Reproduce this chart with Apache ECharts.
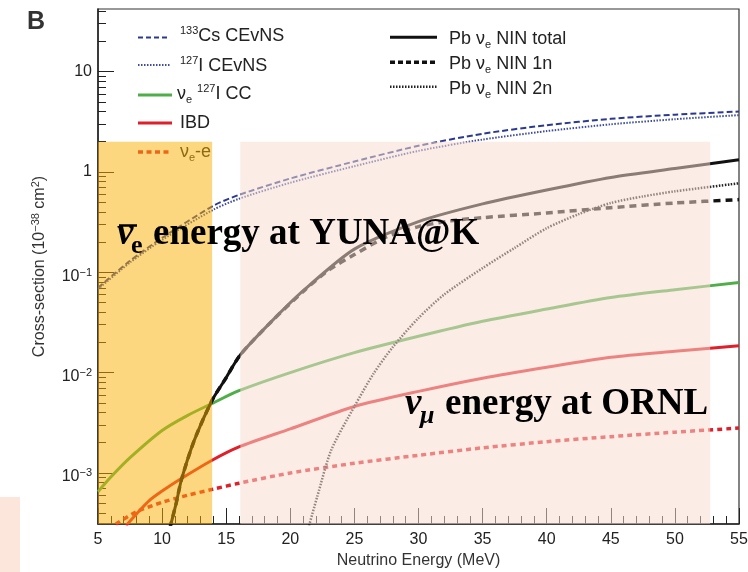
<!DOCTYPE html>
<html><head><meta charset="utf-8">
<script src="https://cdn.jsdelivr.net/npm/echarts@6/dist/echarts.min.js"></script>
<style>html,body{margin:0;padding:0;background:#fff}#c{width:748px;height:572px}</style>
</head><body><div id="c"></div>
<script>
// ---- data (energy MeV, cross-section 1e-38 cm^2) ----
const yMajorTicks = [1e-3, 1e-2, 1e-1, 1, 10];
const yMinorMultipliers = [2, 3, 4, 5, 6, 7, 8, 9];
const cevnsCs = [[5,0.07],[7.5,0.13],[10,0.22],[14,0.46],[16,0.59],[20,0.86],[25,1.27],[30,1.82],[35,2.4],[40,2.92],[45,3.38],[50,3.72],[55,4.0]];
const cevnsI  = [[5,0.068],[7.5,0.125],[10,0.21],[14,0.42],[16,0.54],[20,0.78],[25,1.14],[30,1.62],[35,2.1],[40,2.55],[45,2.98],[50,3.35],[55,3.68]];
const iodineCC = [[5,6.5e-4],[6,9.1e-4],[7.5,1.42e-3],[10,2.65e-3],[12,3.75e-3],[14,5.0e-3],[16,6.6e-3],[20,1.0e-2],[25,1.58e-2],[30,2.3e-2],[35,3.25e-2],[40,4.3e-2],[45,5.6e-2],[50,6.7e-2],[55,7.9e-2]];
const ibd = [[7.2,3.0e-4],[8,3.9e-4],[9,5.3e-4],[10,6.6e-4],[11.5,8.8e-4],[13.9,1.34e-3],[16,1.82e-3],[20,2.75e-3],[25,4.6e-3],[30,6.5e-3],[35,8.8e-3],[40,1.13e-2],[45,1.42e-2],[50,1.63e-2],[55,1.85e-2]];
const nueE = [[6.4,3.1e-4],[8,4.1e-4],[10,5.1e-4],[12,6.0e-4],[14,6.9e-4],[16,7.9e-4],[20,1.0e-3],[25,1.25e-3],[30,1.5e-3],[35,1.78e-3],[40,2.05e-3],[45,2.3e-3],[50,2.55e-3],[55,2.8e-3]];
const pbTotal = [[10.6,2.8e-4],[11.1,5.0e-4],[11.5,8.5e-4],[12.5,2.1e-3],[13.9,5.3e-3],[14.9,8.5e-3],[16.1,1.5e-2],[18.5,3.2e-2],[21.1,6.7e-2],[25,0.17],[30,0.32],[35,0.48],[40,0.66],[45,0.88],[50,1.08],[55,1.32]];
const pb1n = [[10.6,2.8e-4],[11.1,5.0e-4],[11.5,8.5e-4],[12.5,2.1e-3],[13.9,5.3e-3],[14.9,8.5e-3],[16.1,1.5e-2],[18.5,3.2e-2],[21.1,6.6e-2],[23,0.105],[25,0.15],[27.5,0.225],[30,0.285],[32.5,0.325],[35,0.35],[40,0.39],[45,0.44],[50,0.49],[55,0.53]];
const pb2n = [[21.4,2.8e-4],[22.1,5.8e-4],[23.2,1.7e-3],[25,4.6e-3],[26.5,9.8e-3],[28,1.8e-2],[30,3.5e-2],[32,6.0e-2],[35,0.11],[37.5,0.175],[40,0.275],[42.5,0.38],[45,0.49],[47.5,0.57],[50,0.64],[55,0.77]];
const energyBands = [[5, 13.9], [16.1, 52.75]];   // YUNA@K, ORNL
const bandTop = 2.0;
const yMin = 3.1e-4, yMax = 42;

const yMinorTicks = [];
[1e-4,1e-3,1e-2,1e-1,1,10].forEach(d => yMinorMultipliers.forEach(m => { const v = d*m; if (v >= yMin && v <= yMax) yMinorTicks.push(v); }));

const SANS = '"Liberation Sans", Arial, sans-serif';
const SERIF = '"Liberation Serif", "Times New Roman", serif';
const NAVY = '#2b3990', NAVY2 = '#3f4c9e', GREEN = '#4fae48', RED = '#e01f2a', BLACK = '#111';

function line(name, data, color, width, type) {
  return { type: 'line', name, data, showSymbol: false, symbol: 'none', smooth: 0.25,
    lineStyle: { color, width, type, cap: 'butt' }, z: 2, silent: true, animation: false, clip: true };
}

const expLabel = v => {
  const e = Math.round(Math.log10(v));
  if (e >= 0) return '{p|' + Math.pow(10, e) + '}';
  return '{b|10}{s|\u2212' + (-e) + '}';
};

const chart = echarts.init(document.getElementById('c'), null, { renderer: 'canvas' });
const bandColors = ['rgba(250,176,0,0.5)', 'rgba(247,221,208,0.53)'];

const legendRich = {
  s: { fontSize: 11, fontFamily: SANS, verticalAlign: 'top', lineHeight: 11, fill: '#222' },
  u: { fontSize: 11, fontFamily: SANS, verticalAlign: 'bottom', lineHeight: 11, fill: '#222' }
};
function legendText(x, y, text) {
  return { type: 'text', x, y, z: 3, silent: true,
    style: { text, rich: legendRich, fontSize: 18, fontFamily: SANS, fill: '#222', lineHeight: 22, verticalAlign: 'middle', align: 'left' } };
}
function legendLine(x1, x2, y, stroke, lineWidth, lineDash) {
  return { type: 'line', z: 3, silent: true, shape: { x1, y1: y, x2, y2: y }, style: { stroke, lineWidth, lineDash: lineDash || null } };
}

const option = {
  animation: false,
  backgroundColor: '#fff',
  textStyle: { fontFamily: SANS },
  grid: { left: 98, right: 9, top: 9, bottom: 48, show: true, borderColor: '#333', borderWidth: 1.2, backgroundColor: 'transparent', outerBoundsMode: 'none' },
  xAxis: {
    type: 'value', min: 5, max: 55, interval: 5,
    axisLine: { show: true, lineStyle: { color: '#222', width: 1.5 } },
    axisTick: { show: true, inside: true, length: 16, lineStyle: { color: '#222', width: 1 } },
    minorTick: { show: true, splitNumber: 5, length: 8, lineStyle: { color: '#222', width: 1 } },
    splitLine: { show: false }, minorSplitLine: { show: false },
    axisLabel: { fontSize: 16, color: '#222', margin: 8, fontFamily: SANS },
    name: 'Neutrino Energy (MeV)', nameLocation: 'middle', nameGap: 28,
    nameTextStyle: { fontSize: 16, color: '#333', fontFamily: SANS }
  },
  yAxis: [{
    type: 'log', logBase: 10, min: yMin, max: yMax, position: 'left',
    axisLine: { show: true, lineStyle: { color: '#222', width: 1.5 } },
    axisTick: { show: true, inside: true, length: 16, customValues: yMajorTicks, lineStyle: { color: '#222', width: 1 } },
    minorTick: { show: false }, splitLine: { show: false },
    axisLabel: { customValues: yMajorTicks, formatter: expLabel, margin: 6, color: '#222',
      rich: {
        p: { fontSize: 16, fontFamily: SANS, color: '#222' },
        b: { fontSize: 16, fontFamily: SANS, color: '#222', lineHeight: 16, padding: [8, 0, 0, 0] },
        s: { fontSize: 11, fontFamily: SANS, color: '#222', verticalAlign: 'top', lineHeight: 12, padding: [3, 0, 0, 0] }
      } },
    name: 'Cross-section (10{s|\u221238} cm{s|2})', nameLocation: 'middle', nameGap: 48,
    nameTextStyle: { fontSize: 16, color: '#333', fontFamily: SANS, lineHeight: 20,
      rich: { s: { fontSize: 11, fontFamily: SANS, color: '#333', verticalAlign: 'top', lineHeight: 12 } } }
  }, {
    type: 'log', logBase: 10, min: yMin, max: yMax, position: 'left',
    axisLine: { show: false },
    axisTick: { show: true, inside: true, length: 8, customValues: yMinorTicks, lineStyle: { color: '#222', width: 1 } },
    axisLabel: { show: false }, splitLine: { show: false }
  }],
  series: [
    line('133Cs CEvNS', cevnsCs, NAVY, 2, [6, 3]),
    line('127I CEvNS', cevnsI, NAVY2, 2, [1.5, 1.5]),
    line('nue 127I CC', iodineCC, GREEN, 3, 'solid'),
    line('IBD', ibd, RED, 3, 'solid'),
    line('nue-e', nueE, RED, 3.5, [5, 4]),
    line('Pb NIN 1n', pb1n, BLACK, 3.5, [7, 5]),
    line('Pb NIN total', pbTotal, BLACK, 3, 'solid'),
    line('Pb NIN 2n', pb2n, '#222', 2.5, [1.5, 1.5]),
    {
      type: 'custom', name: 'bands', z: 10, silent: true, animation: false,
      data: energyBands.map(b => [b[0], b[1], yMin, bandTop]),
      encode: { x: [0, 1], y: [2, 3] },
      renderItem: (params, api) => {
        const p0 = api.coord([api.value(0), api.value(3)]);
        const p1 = api.coord([api.value(1), api.value(2)]);
        return { type: 'rect', shape: { x: p0[0], y: p0[1], width: p1[0] - p0[0], height: p1[1] - p0[1] },
          style: { fill: bandColors[params.dataIndex] } };
      }
    }
  ],
  graphic: [
    { type: 'rect', z: 1, silent: true, shape: { x: 0, y: 497, width: 20, height: 75 }, style: { fill: '#fce6dc' } },
    { type: 'text', z: 20, silent: true, x: 27, y: 22.5, style: { text: 'B', font: 'bold 25px ' + SANS, fill: '#333', verticalAlign: 'middle' } },
    legendLine(138, 170, 37.5, NAVY, 2, [5, 3]),
    legendText(180, 36.5, '{s|133}Cs CEvNS'),
    legendLine(138, 170, 65, NAVY2, 2, [1.5, 1.5]),
    legendText(180, 66, '{s|127}I CEvNS'),
    legendLine(138, 172, 95, GREEN, 3),
    legendText(177, 94, '\u03bd{u|e} {s|127}I CC'),
    legendLine(138, 172, 123, RED, 3),
    legendText(180, 123, 'IBD'),
    legendLine(138, 172, 152, RED, 3.5, [5, 3.5]),
    legendText(180, 152, '\u03bd{u|e}-e'),
    legendLine(390, 437, 37.3, BLACK, 3),
    legendText(449, 39.5, 'Pb \u03bd{u|e} NIN total'),
    legendLine(390, 437, 62.3, BLACK, 3.5, [5, 3]),
    legendText(449, 64.5, 'Pb \u03bd{u|e} NIN 1n'),
    legendLine(390, 437, 86.7, '#222', 2.5, [1.5, 1.5]),
    legendText(449, 89, 'Pb \u03bd{u|e} NIN 2n'),
    // annotations
    { type: 'text', z: 20, silent: true, x: 117, y: 234.5, style: { text: '\u03bd', font: 'italic bold 37px ' + SERIF, fill: '#000', verticalAlign: 'middle' } },
    { type: 'line', z: 20, silent: true, shape: { x1: 119, y1: 225.5, x2: 137, y2: 225.5 }, style: { stroke: '#000', lineWidth: 2.5 } },
    { type: 'text', z: 20, silent: true, x: 131, y: 246, style: { text: 'e', font: 'bold 26px ' + SERIF, fill: '#000', verticalAlign: 'middle' } },
    { type: 'text', z: 20, silent: true, x: 153, y: 234.5, style: { text: 'energy at YUNA@K', font: 'bold 37px ' + SERIF, fill: '#000', verticalAlign: 'middle' } },
    { type: 'text', z: 20, silent: true, x: 405, y: 404.5, style: { text: '\u03bd', font: 'italic bold 37px ' + SERIF, fill: '#000', verticalAlign: 'middle' } },
    { type: 'text', z: 20, silent: true, x: 420, y: 416, style: { text: '\u03bc', font: 'italic bold 26px ' + SERIF, fill: '#000', verticalAlign: 'middle' } },
    { type: 'text', z: 20, silent: true, x: 445, y: 404.5, style: { text: 'energy at ORNL', font: 'bold 37px ' + SERIF, fill: '#000', verticalAlign: 'middle' } }
  ]
};
chart.setOption(option);
</script>
</body></html>
